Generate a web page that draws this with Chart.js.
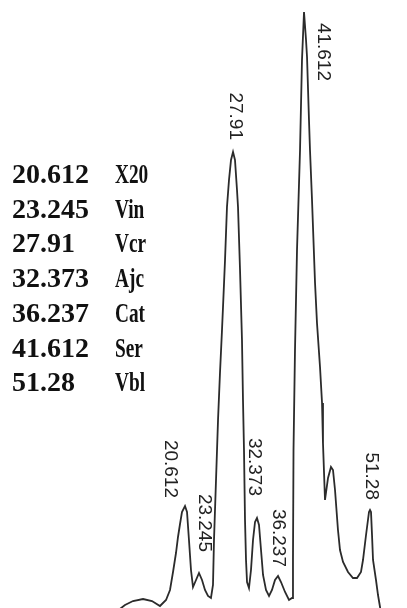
<!DOCTYPE html>
<html>
<head>
<meta charset="utf-8">
<script src="https://cdn.jsdelivr.net/npm/chart.js@4.4.0/dist/chart.umd.min.js"></script>
<style>
  html, body { margin: 0; padding: 0; background: #fff; }
  #wrap { width: 407px; height: 608px; position: relative; }
</style>
</head>
<body>
<div id="wrap"><canvas id="chromatogram"></canvas></div>
<script>
// Peak table
const peakTimes = ["20.612", "23.245", "27.91", "32.373", "36.237", "41.612", "51.28"];
const peakNames = ["X20", "Vin", "Vcr", "Ajc", "Cat", "Ser", "Vbl"];

// Where each peak apex sits on the trace (minutes, signal)
const apexTime = [20.50, 22.86, 28.60, 32.64, 36.19, 40.57, 51.70];
const apexSignal = [102, 35, 456, 90, 32, 596, 98];

// Trace
const traceTime = [
  8.86, 10.38, 11.73, 13.42, 14.93, 16.28, 17.30, 17.97, 18.48, 18.98,
  19.32, 19.66, 19.99, 20.50, 20.84, 21.17, 21.51, 21.85, 22.36, 22.86,
  23.37, 23.87, 24.38, 24.88, 25.22, 25.39, 25.73, 26.07, 26.40, 26.74,
  26.91, 27.25, 27.58, 27.92, 28.26, 28.60, 28.93, 29.27, 29.44, 29.78,
  30.11, 30.28, 30.45, 30.62, 30.79, 30.96, 31.29, 31.63, 31.97, 32.31,
  32.64, 32.98, 33.32, 33.66, 34.16, 34.67, 35.17, 35.68, 36.19, 36.69,
  37.37, 38.04, 38.55, 38.71, 38.80, 39.05, 39.39, 39.90, 40.23, 40.57,
  40.91, 41.08, 41.41, 41.58, 41.92, 42.43, 42.76, 43.27, 43.61, 43.77,
  44.11, 44.62, 45.12, 45.46, 45.80, 46.30, 46.64, 47.15, 47.99, 48.83,
  49.51, 50.18, 50.52, 51.03, 51.53, 51.70, 51.87, 52.04, 52.21, 52.71,
  53.05, 53.39, 53.56
];
const traceSignal = [
  -4, 3, 7, 9, 7, 2, 8, 18, 36, 55,
  71, 84, 96, 102, 96, 68, 38, 21, 28, 35,
  28, 18, 12, 10, 23, 68, 128, 188, 235, 278,
  301, 348, 401, 428, 448, 456, 448, 418, 401, 338,
  268, 208, 158, 88, 48, 26, 20, 38, 68, 86,
  90, 83, 58, 33, 18, 12, 18, 28, 32, 26,
  16, 8, 10, 48, 158, 258, 358, 458, 548, 596,
  568, 551, 488, 458, 408, 325, 285, 241, 205, 165,
  108, 130, 141, 138, 118, 78, 58, 46, 36, 30,
  30, 36, 48, 73, 96, 98, 96, 73, 48, 28,
  13, 1, -7
];

const tracePoints = traceTime.map((t, i) => ({ x: t, y: traceSignal[i] }));

// label placement relative to apex: [dx px, gap px above apex]
const labelOffsets = [[-15, 8], [5, 21], [2, 12], [-3, 22], [0, 9], [19, -69], [1, 10]];

const annotatePlugin = {
  id: "annotate",
  afterDraw(chart) {
    const ctx = chart.ctx;
    const xs = chart.scales.x;
    const ys = chart.scales.y;

    // peak labels, rotated
    ctx.save();
    ctx.fillStyle = "#222";
    ctx.font = '19px "Liberation Sans", Arial, sans-serif';
    ctx.textAlign = "right";
    ctx.textBaseline = "middle";
    peakTimes.forEach((label, i) => {
      const px = xs.getPixelForValue(apexTime[i]) + labelOffsets[i][0];
      const py = ys.getPixelForValue(apexSignal[i]) - labelOffsets[i][1];
      ctx.save();
      ctx.translate(px, py);
      ctx.rotate(Math.PI / 2);
      ctx.fillText(label, 0, 0);
      ctx.restore();
    });
    ctx.restore();

    // peak table on the left
    ctx.save();
    ctx.fillStyle = "#111";
    ctx.font = 'bold 28px "Liberation Serif", "Times New Roman", serif';
    ctx.textAlign = "left";
    ctx.textBaseline = "alphabetic";
    peakTimes.forEach((t, i) => {
      const base = 183 + i * 34.7;
      ctx.fillText(t, 12, base);
      ctx.save();
      ctx.translate(115, base);
      ctx.scale(0.69, 1);
      ctx.fillText(peakNames[i], 0, 0);
      ctx.restore();
    });
    ctx.restore();
  }
};

document.addEventListener("DOMContentLoaded", function () {
  new Chart(document.getElementById("chromatogram"), {
    type: "line",
    data: {
      datasets: [{
        data: tracePoints,
        borderColor: "#2b2b2b",
        borderWidth: 1.8,
        pointRadius: 0,
        tension: 0,
        fill: false
      }]
    },
    options: {
      responsive: true,
      maintainAspectRatio: false,
      animation: false,
      layout: { padding: 0 },
      plugins: {
        legend: { display: false },
        tooltip: { enabled: false }
      },
      scales: {
        x: { type: "linear", min: -10.7, max: 57.94, display: false },
        y: { min: 0, max: 608, display: false }
      }
    },
    plugins: [annotatePlugin]
  });
});
</script>
</body>
</html>
